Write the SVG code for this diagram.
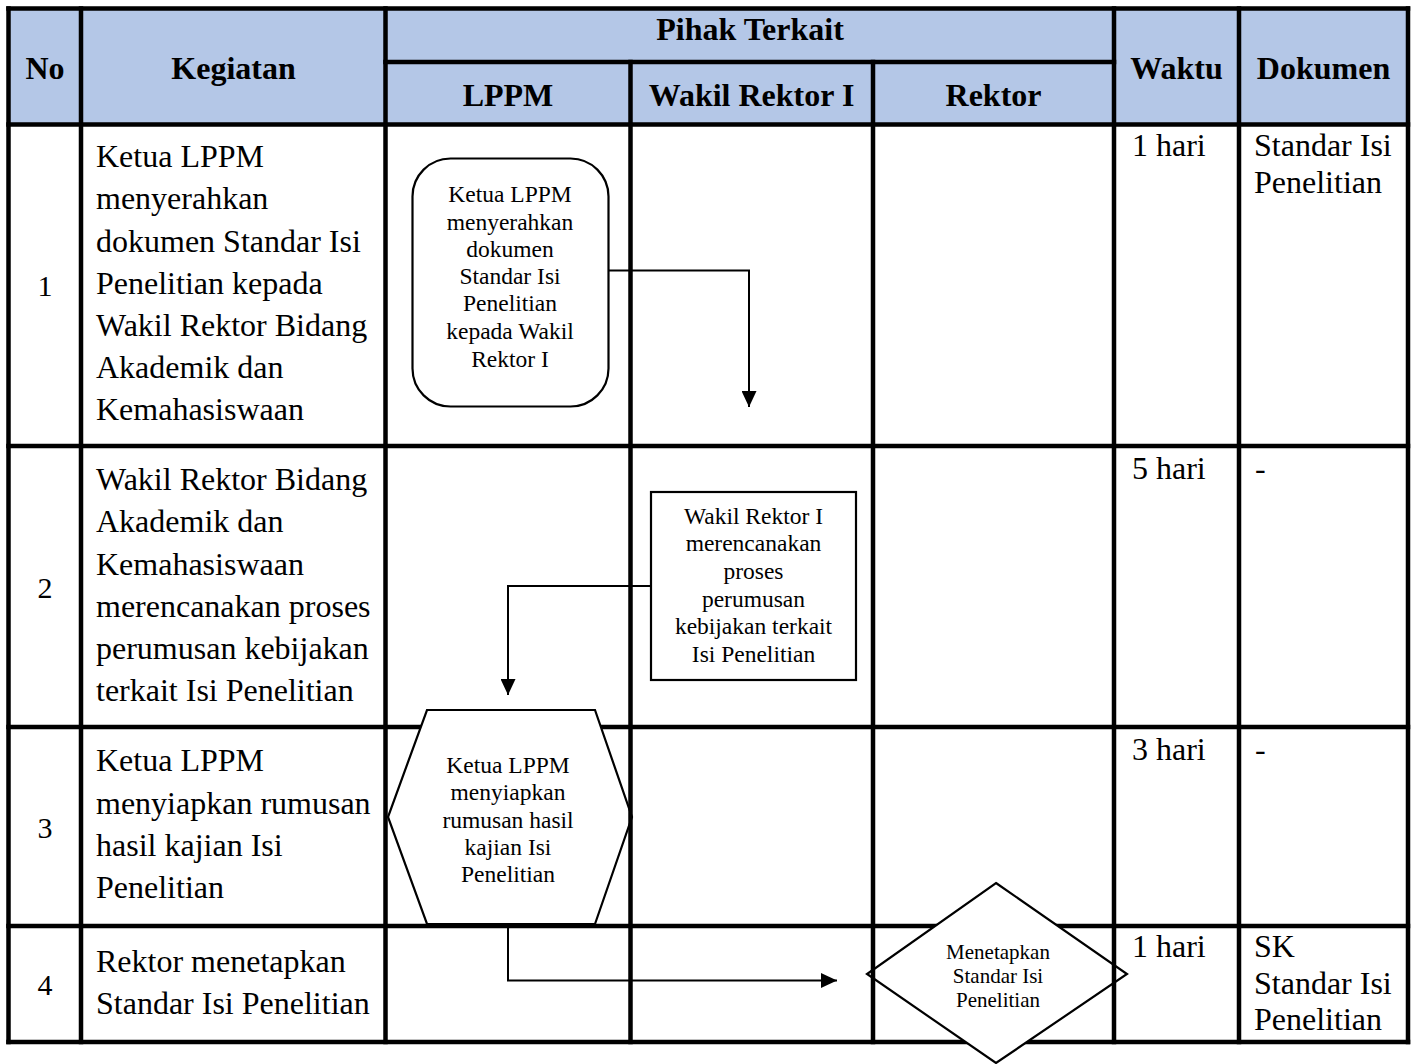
<svg xmlns="http://www.w3.org/2000/svg" width="1417" height="1064" viewBox="0 0 1417 1064">
<style>
.hdr{font-family:"Liberation Serif","Times New Roman",serif;font-size:32px;font-weight:bold;fill:#000;text-anchor:middle}
.body{font-family:"Liberation Serif","Times New Roman",serif;font-size:32px;fill:#000}
.num{font-family:"Liberation Serif","Times New Roman",serif;font-size:30px;fill:#000;text-anchor:middle}
.shape{fill:#fff;stroke:#000;stroke-width:2.2}
.st{font-family:"Liberation Serif","Times New Roman",serif;font-size:23.5px;fill:#000;text-anchor:middle}
.sd{font-family:"Liberation Serif","Times New Roman",serif;font-size:21px;fill:#000;text-anchor:middle}
.grid{stroke:#000;stroke-width:4.5;fill:none;stroke-linecap:square}
.conn{stroke:#000;stroke-width:2;fill:none}
</style>
<defs>
<marker id="arr" viewBox="0 0 16 15" refX="16" refY="7.5" markerWidth="16" markerHeight="15" markerUnits="userSpaceOnUse" orient="auto">
<path d="M0,0 L16,7.5 L0,15 Z" fill="#000"/>
</marker>
</defs>
<rect x="0" y="0" width="1417" height="1064" fill="#fff"/>
<g id="table-horizontal">
<rect x="8.5" y="8.5" width="1399.5" height="116" fill="#B4C7E7"/>
<path class="grid" d="M8.5,8.5 H1408 M385.5,62 H1114 M8.5,124.5 H1408 M8.5,446 H1408 M8.5,727 H1408 M8.5,926 H1408 M8.5,1042 H1408"/>
</g>
<g id="node-1">
<rect class="shape" x="412.5" y="158.5" width="196" height="248" rx="38" ry="38"/>
<text class="st"><tspan x="510" y="202">Ketua LPPM</tspan><tspan x="510" y="229.5">menyerahkan</tspan><tspan x="510" y="257">dokumen</tspan><tspan x="510" y="284">Standar Isi</tspan><tspan x="510" y="311">Penelitian</tspan><tspan x="510" y="338.5">kepada Wakil</tspan><tspan x="510" y="366.5">Rektor I</tspan></text>
</g>
<g id="node-2">
<rect class="shape" x="651" y="492" width="205" height="188"/>
<text class="st"><tspan x="753.5" y="523.5">Wakil Rektor I</tspan><tspan x="753.5" y="551">merencanakan</tspan><tspan x="753.5" y="579">proses</tspan><tspan x="753.5" y="606.5">perumusan</tspan><tspan x="753.5" y="634">kebijakan terkait</tspan><tspan x="753.5" y="662">Isi Penelitian</tspan></text>
</g>
<g id="node-3">
<polygon class="shape" points="427,710 595,710 632,817 595,924 427,924 388,817"/>
<text class="st"><tspan x="508" y="772.5">Ketua LPPM</tspan><tspan x="508" y="800">menyiapkan</tspan><tspan x="508" y="827.5">rumusan hasil</tspan><tspan x="508" y="855">kajian Isi</tspan><tspan x="508" y="882">Penelitian</tspan></text>
</g>
<g id="node-4">
<polygon class="shape" points="996,883 1127,974 996,1063 867,974"/>
<text class="sd"><tspan x="998" y="959">Menetapkan</tspan><tspan x="998" y="983">Standar Isi</tspan><tspan x="998" y="1007">Penelitian</tspan></text>
</g>
<g id="table-vertical">
<path class="grid" d="M8.5,8.5 V1042 M81,8.5 V1042 M385.5,8.5 V1042 M630.5,62 V1042 M873,62 V1042 M1114,8.5 V1042 M1239,8.5 V1042 M1408,8.5 V1042"/>
</g>
<g id="connectors">
<path class="conn" d="M608.5,270.5 H749 V407" marker-end="url(#arr)"/>
<path class="conn" d="M651,586 H508 V695" marker-end="url(#arr)"/>
<path class="conn" d="M508,926 V980.5 H837" marker-end="url(#arr)"/>
</g>
<g id="header-text">
<text class="hdr" x="45" y="79">No</text>
<text class="hdr" x="233.5" y="79">Kegiatan</text>
<text class="hdr" x="750" y="40">Pihak Terkait</text>
<text class="hdr" x="508" y="106">LPPM</text>
<text class="hdr" x="751.5" y="106">Wakil Rektor I</text>
<text class="hdr" x="993.5" y="106">Rektor</text>
<text class="hdr" x="1176.5" y="79">Waktu</text>
<text class="hdr" x="1323.5" y="79">Dokumen</text>
</g>
<g id="row-1">
<text class="num" x="45" y="296">1</text>
<text class="body"><tspan x="96" y="167">Ketua LPPM</tspan><tspan x="96" y="209">menyerahkan</tspan><tspan x="96" y="251.5">dokumen Standar Isi</tspan><tspan x="96" y="293.5">Penelitian kepada</tspan><tspan x="96" y="336">Wakil Rektor Bidang</tspan><tspan x="96" y="378">Akademik dan</tspan><tspan x="96" y="420">Kemahasiswaan</tspan></text>
<text class="body" x="1132" y="156">1 hari</text>
<text class="body"><tspan x="1254" y="156">Standar Isi</tspan><tspan x="1254" y="192.5">Penelitian</tspan></text>
</g>
<g id="row-2">
<text class="num" x="45" y="598">2</text>
<text class="body"><tspan x="96" y="490">Wakil Rektor Bidang</tspan><tspan x="96" y="532">Akademik dan</tspan><tspan x="96" y="575">Kemahasiswaan</tspan><tspan x="96" y="617">merencanakan proses</tspan><tspan x="96" y="659">perumusan kebijakan</tspan><tspan x="96" y="701">terkait Isi Penelitian</tspan></text>
<text class="body" x="1132" y="479">5 hari</text>
<text class="body" x="1255" y="479">-</text>
</g>
<g id="row-3">
<text class="num" x="45" y="838">3</text>
<text class="body"><tspan x="96" y="771">Ketua LPPM</tspan><tspan x="96" y="814">menyiapkan rumusan</tspan><tspan x="96" y="856">hasil kajian Isi</tspan><tspan x="96" y="898">Penelitian</tspan></text>
<text class="body" x="1132" y="760">3 hari</text>
<text class="body" x="1255" y="760">-</text>
</g>
<g id="row-4">
<text class="num" x="45" y="995">4</text>
<text class="body"><tspan x="96" y="972">Rektor menetapkan</tspan><tspan x="96" y="1014">Standar Isi Penelitian</tspan></text>
<text class="body" x="1132" y="957">1 hari</text>
<text class="body"><tspan x="1254" y="957">SK</tspan><tspan x="1254" y="994">Standar Isi</tspan><tspan x="1254" y="1030">Penelitian</tspan></text>
</g>
</svg>
